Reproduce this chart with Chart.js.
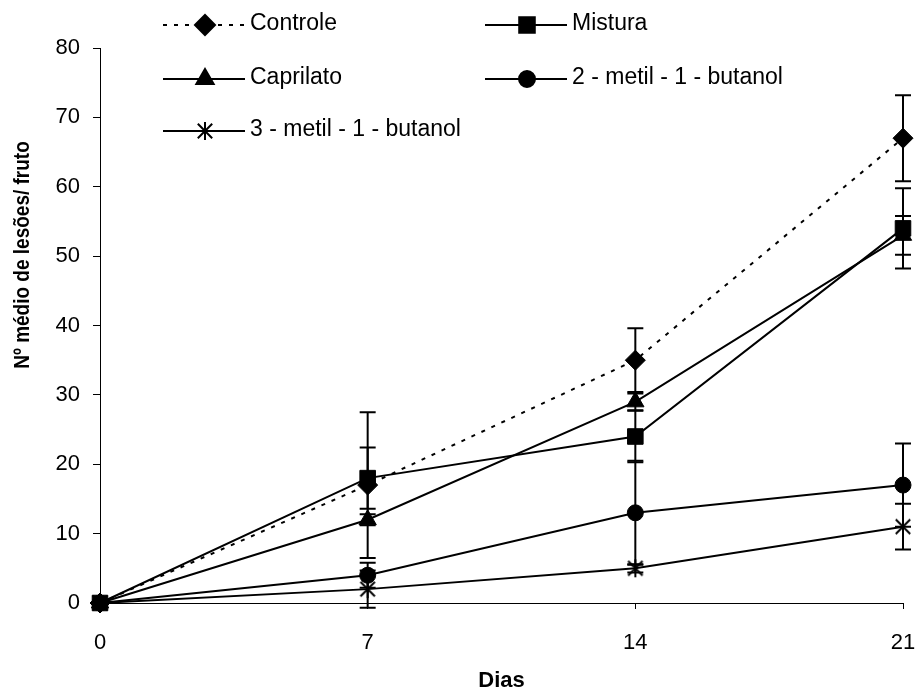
<!DOCTYPE html>
<html>
<head>
<meta charset="utf-8">
<script src="https://cdn.jsdelivr.net/npm/chart.js@4.4.1/dist/chart.umd.min.js"></script>
<style>
  body { margin: 0; background: #fff; }
  #wrap { width: 919px; height: 694px; }
</style>
</head>
<body>
<div id="wrap"><canvas id="chart" width="919" height="694"></canvas></div>
<script>
// dias de avaliação
const dias = [0, 7, 14, 21];

// médias por tratamento
const controle = [0, 17, 35, 67];
const mistura = [0, 18, 24, 54];
const caprilato = [0, 12, 29, 53];
const metil2 = [0, 4, 13, 17];
const metil3 = [0, 2, 5, 11];

// barras de erro (+/-)
const errControle = [0, 10.5, 4.6, 6.2];
const errMistura = [0, 4.4, 3.7, 5.8];
const errCaprilato = [0, 0.8, 1.2, 2.8];
const errMetil2 = [0, 1.8, 7.5, 6];
const errMetil3 = [0, 2.7, 0.6, 3.3];

const yTicks = [0, 10, 20, 30, 40, 50, 60, 70, 80];
const yTitle = "Nº médio de lesões/ fruto";

const FONT = "'Liberation Sans', Arial, sans-serif";
Chart.defaults.font.family = FONT;
Chart.defaults.color = "#000";

// asterisco de 6 pontas (como no Excel)
function makeStar(size) {
    const c = document.createElement("canvas");
    c.width = size; c.height = size;
    const g = c.getContext("2d");
    const m = size / 2, r = size / 2 - 1;
    g.strokeStyle = "#000";
    g.lineWidth = 2;
    g.beginPath();
    g.moveTo(m, m - r); g.lineTo(m, m + r);
    const d = r * 0.8;
    g.moveTo(m - d, m - d); g.lineTo(m + d, m + d);
    g.moveTo(m + d, m - d); g.lineTo(m - d, m + d);
    g.stroke();
    return c;
}
const starImg = makeStar(20);

function toPoints(arr) {
    return arr.map((v, i) => ({ x: dias[i], y: v }));
}

function serie(label, values, errs, style, radius, dash) {
    return {
        label: label,
        data: toPoints(values),
        errs: errs,
        borderColor: "#000",
        backgroundColor: "#000",
        borderWidth: 2,
        borderDash: dash || [],
        pointStyle: style,
        pointRadius: radius,
        pointHoverRadius: radius,
        pointBackgroundColor: "#000",
        pointBorderColor: "#000",
        pointBorderWidth: 1,
        tension: 0,
        clip: false
    };
}

const errorBars = {
    id: "errorBars",
    beforeDatasetsDraw(chart) {
        const ctx = chart.ctx;
        const xs = chart.scales.x, ys = chart.scales.y;
        ctx.save();
        ctx.strokeStyle = "#000";
        ctx.lineWidth = 2;
        chart.data.datasets.forEach(ds => {
            ds.data.forEach((p, i) => {
                const e = ds.errs[i];
                if (!e) return;
                const x = xs.getPixelForValue(p.x);
                const yt = ys.getPixelForValue(p.y + e);
                const yb = ys.getPixelForValue(p.y - e);
                ctx.beginPath();
                ctx.moveTo(x, yt); ctx.lineTo(x, yb);
                ctx.moveTo(x - 8, yt); ctx.lineTo(x + 8, yt);
                ctx.moveTo(x - 8, yb); ctx.lineTo(x + 8, yb);
                ctx.stroke();
            });
        });
        ctx.restore();
    }
};

// título do eixo y, fora do centro como no original
const yTitlePlugin = {
    id: "yTitlePlugin",
    afterDraw(chart) {
        const ctx = chart.ctx;
        ctx.save();
        ctx.translate(23, 255);
        ctx.rotate(-Math.PI / 2);
        ctx.scale(1, 1.15);
        ctx.fillStyle = "#000";
        ctx.font = "bold 19px " + FONT;
        ctx.textAlign = "center";
        ctx.textBaseline = "middle";
        ctx.fillText(yTitle, 0, 0);
        ctx.restore();
    }
};

// legenda em duas colunas, desenhada à mão
const legendPos = [
    { x: 163, y: 25 },
    { x: 485, y: 25 },
    { x: 163, y: 79 },
    { x: 485, y: 79 },
    { x: 163, y: 131 }
];
const customLegend = {
    id: "customLegend",
    afterDraw(chart) {
        const ctx = chart.ctx;
        ctx.save();
        chart.data.datasets.forEach((ds, i) => {
            const pos = legendPos[i];
            ctx.strokeStyle = "#000";
            ctx.lineWidth = 2;
            ctx.setLineDash(ds.borderDash);
            ctx.beginPath();
            ctx.moveTo(pos.x, pos.y);
            ctx.lineTo(pos.x + 82, pos.y);
            ctx.stroke();
            ctx.setLineDash([]);
            Chart.helpers.drawPoint(ctx, {
                pointStyle: ds.pointStyle,
                radius: ds.pointRadius,
                rotation: 0,
                borderWidth: 1
            }, pos.x + 42, pos.y);
            ctx.fillStyle = "#000";
            ctx.font = "23px " + FONT;
            ctx.textBaseline = "middle";
            ctx.textAlign = "left";
            ctx.fillText(ds.label, pos.x + 87, pos.y - 1);
        });
        ctx.restore();
    }
};

new Chart(document.getElementById("chart"), {
    type: "line",
    data: {
        datasets: [
            serie("Controle", controle, errControle, "rectRot", 10, [4, 7]),
            serie("Mistura", mistura, errMistura, "rect", 11),
            serie("Caprilato", caprilato, errCaprilato, "triangle", 10),
            serie("2 - metil - 1 - butanol", metil2, errMetil2, "circle", 8),
            serie("3 - metil - 1 - butanol", metil3, errMetil3, starImg, 10)
        ]
    },
    options: {
        responsive: false,
        animation: false,
        layout: { padding: { left: 0, right: 16, top: 48, bottom: 0 } },
        plugins: {
            legend: { display: false },
            tooltip: { enabled: false }
        },
        scales: {
            x: {
                type: "linear",
                min: 0,
                max: 21,
                afterBuildTicks: axis => { axis.ticks = dias.map(v => ({ value: v })); },
                afterFit: axis => {
                    axis.height = 91;
                    axis.paddingRight = 0;
                    axis.paddingLeft = 0;
                },
                grid: { drawOnChartArea: false, drawTicks: true, tickLength: 6, color: "#000" },
                border: { display: true, color: "#000", width: 1 },
                ticks: { font: { size: 22 }, padding: 21, maxRotation: 0 },
                title: { display: true, text: "Dias", font: { size: 22, weight: "bold" }, padding: { top: 0, bottom: 0 } }
            },
            y: {
                min: 0,
                max: 80,
                afterBuildTicks: axis => { axis.ticks = yTicks.map(v => ({ value: v })); },
                afterFit: axis => { axis.width = 100; },
                grid: { drawOnChartArea: false, drawTicks: true, tickLength: 7, color: "#000" },
                border: { display: true, color: "#000", width: 1 },
                ticks: { font: { size: 22 }, padding: 13 },
                title: { display: false }
            }
        }
    },
    plugins: [errorBars, yTitlePlugin, customLegend]
});
</script>
</body>
</html>
